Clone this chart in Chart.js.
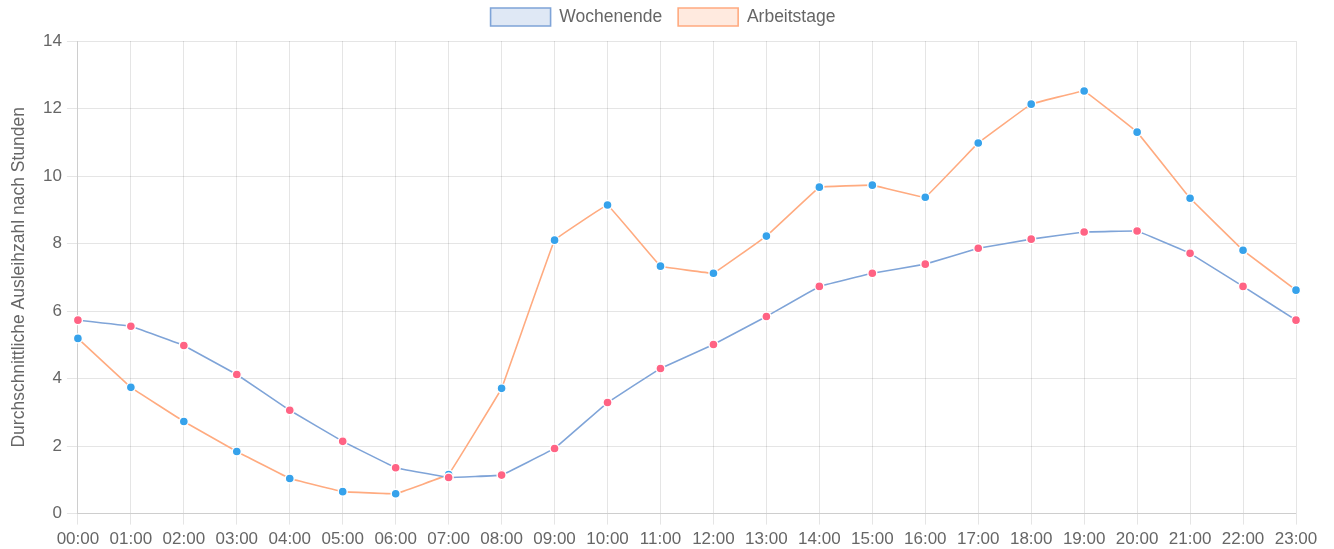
<!DOCTYPE html>
<html>
<head>
<meta charset="utf-8">
<script src="https://cdn.jsdelivr.net/npm/chart.js@4"></script>
<style>
html,body{margin:0;padding:0;background:#fff;overflow:hidden;}
#clip{width:1334px;height:549px;position:relative;overflow:hidden;}
#c{position:absolute;left:0;top:-8px;width:1334px;height:563px;}
</style>
</head>
<body>
<div id="clip"><canvas id="c" width="1334" height="563"></canvas></div>
<script>
const hours = ["00:00","01:00","02:00","03:00","04:00","05:00","06:00","07:00","08:00","09:00","10:00","11:00","12:00","13:00","14:00","15:00","16:00","17:00","18:00","19:00","20:00","21:00","22:00","23:00"];
const wochenende = [5.73,5.55,4.98,4.12,3.06,2.14,1.36,1.07,1.14,1.93,3.29,4.30,5.01,5.84,6.73,7.12,7.39,7.86,8.13,8.34,8.37,7.71,6.73,5.73];
const arbeitstage = [5.19,3.74,2.73,1.84,1.04,0.65,0.59,1.16,3.71,8.10,9.14,7.33,7.12,8.22,9.67,9.73,9.37,10.98,12.13,12.52,11.30,9.34,7.80,6.62];
const yTicks = [0,2,4,6,8,10,12,14];

const FONT = "'Liberation Sans', Arial, sans-serif";

const legendHeight = {
  id: 'legendHeight',
  beforeInit(chart) {
    const orig = chart.legend.fit;
    chart.legend.fit = function () { orig.call(this); this.height = 49; };
  }
};

new Chart(document.getElementById('c'), {
  type: 'line',
  data: {
    labels: hours,
    datasets: [
      {
        label: 'Wochenende',
        data: wochenende,
        borderColor: '#7fa4d8',
        backgroundColor: 'rgba(127,164,216,0.25)',
        borderWidth: 1.6,
        pointBackgroundColor: '#ff6384',
        pointBorderColor: '#ffffff',
        pointBorderWidth: 1.4,
        pointRadius: 4.5,
        tension: 0.03,
        fill: false
      },
      {
        label: 'Arbeitstage',
        data: arbeitstage,
        borderColor: '#ffab80',
        backgroundColor: 'rgba(255,171,128,0.25)',
        borderWidth: 1.6,
        pointBackgroundColor: '#36a2eb',
        pointBorderColor: '#ffffff',
        pointBorderWidth: 1.4,
        pointRadius: 4.5,
        tension: 0.03,
        fill: false
      }
    ]
  },
  plugins: [legendHeight],
  options: {
    responsive: false,
    devicePixelRatio: 1,
    animation: false,
    layout: { padding: { left: 0, right: 8, top: 0, bottom: 0 } },
    plugins: {
      legend: {
        position: 'top',
        labels: {
          color: '#666',
          font: { family: FONT, size: 17.5 },
          boxWidth: 60,
          boxHeight: 18,
          padding: 16
        }
      },
      tooltip: { enabled: false }
    },
    scales: {
      x: {
        grid: { color: 'rgba(0,0,0,0.1)', tickLength: 11 },
        ticks: { color: '#666', font: { family: FONT, size: 17 }, maxRotation: 0, autoSkip: false, padding: 5 }
      },
      y: {
        min: 0,
        max: 14,
        afterBuildTicks: (axis) => { axis.ticks = yTicks.map(v => ({ value: v })); },
        grid: { color: 'rgba(0,0,0,0.1)', tickLength: 11 },
        ticks: { color: '#666', font: { family: FONT, size: 17 }, padding: 5 },
        title: {
          display: true,
          text: 'Durchschnittliche Ausleihzahl nach Stunden',
          color: '#666',
          font: { family: FONT, size: 17.5 },
          padding: { top: 9, bottom: 8 }
        }
      },
      yRight: {
        position: 'right',
        display: true,
        grid: { display: false, drawTicks: false },
        border: { display: false },
        ticks: { display: false },
        afterFit: (axis) => { axis.width = 30; }
      }
    }
  }
});
</script>
</body>
</html>
